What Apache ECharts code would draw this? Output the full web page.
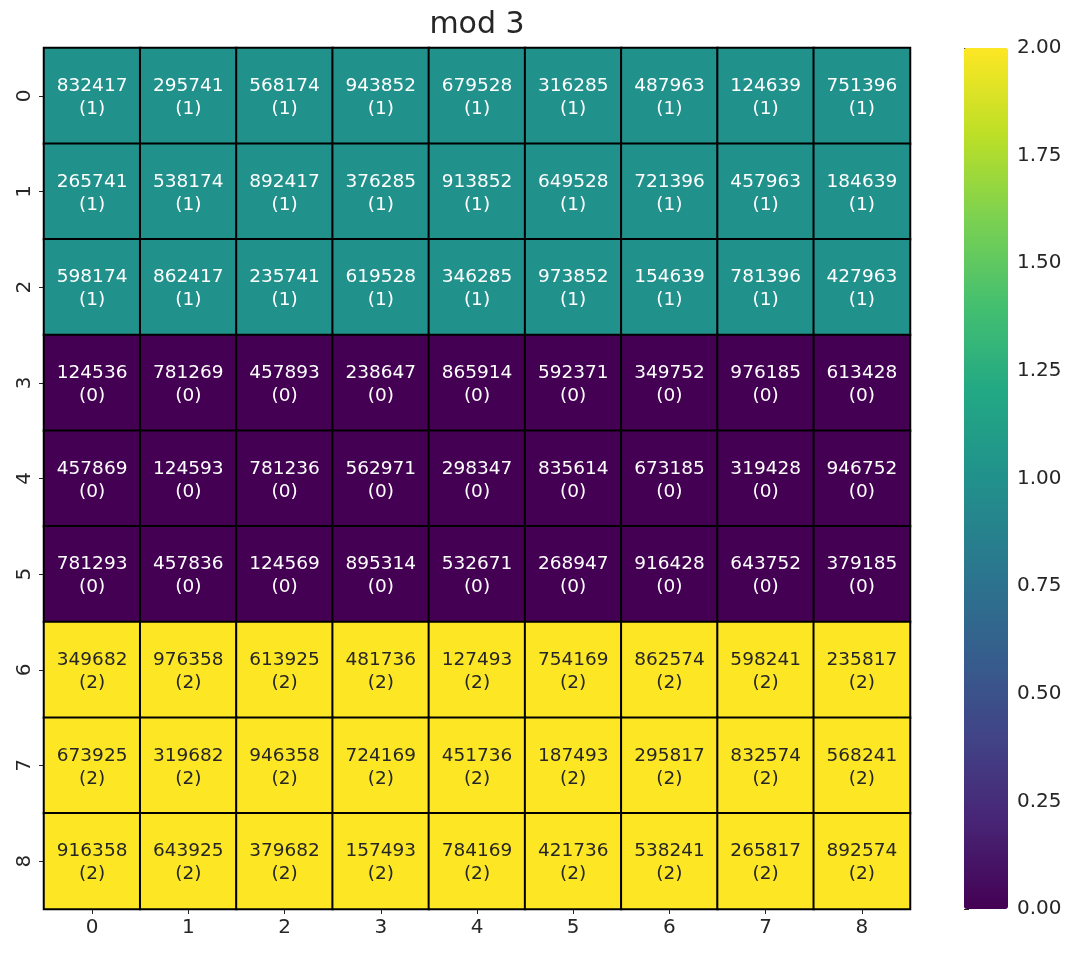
<!DOCTYPE html>
<html>
<head>
<meta charset="utf-8">
<script src="https://cdn.jsdelivr.net/npm/echarts@6/dist/echarts.min.js"></script>
<style>
  html, body { margin: 0; padding: 0; background: #fff; }
  #chart { width: 1080px; height: 953px; }
</style>
</head>
<body>
<div id="chart"></div>
<script>
const xLabels = ['0', '1', '2', '3', '4', '5', '6', '7', '8']
const yLabels = ['0', '1', '2', '3', '4', '5', '6', '7', '8']

const row0 = [832417, 295741, 568174, 943852, 679528, 316285, 487963, 124639, 751396]
const row1 = [265741, 538174, 892417, 376285, 913852, 649528, 721396, 457963, 184639]
const row2 = [598174, 862417, 235741, 619528, 346285, 973852, 154639, 781396, 427963]
const row3 = [124536, 781269, 457893, 238647, 865914, 592371, 349752, 976185, 613428]
const row4 = [457869, 124593, 781236, 562971, 298347, 835614, 673185, 319428, 946752]
const row5 = [781293, 457836, 124569, 895314, 532671, 268947, 916428, 643752, 379185]
const row6 = [349682, 976358, 613925, 481736, 127493, 754169, 862574, 598241, 235817]
const row7 = [673925, 319682, 946358, 724169, 451736, 187493, 295817, 832574, 568241]
const row8 = [916358, 643925, 379682, 157493, 784169, 421736, 538241, 265817, 892574]
const rows = [row0, row1, row2, row3, row4, row5, row6, row7, row8]

const colorTicks = [0, 0.25, 0.5, 0.75, 1, 1.25, 1.5, 1.75, 2]

const viridis = ['#440154', '#482475', '#414487', '#355f8d', '#2a788e', '#21918c',
                 '#22a884', '#44bf70', '#7ad151', '#bddf26', '#fde725']

// heatmap cells: [col, row, value mod 3, raw value]
let cells = []
rows.forEach((row, r) => {
    row.forEach((v, c) => {
        let m = v % 3
        cells.push({
            value: [c, r, m, v],
            label: { color: m === 2 ? '#262626' : '#ffffff' }
        })
    })
})

const font = 'DejaVu Sans'
let chart = echarts.init(document.getElementById('chart'))
chart.setOption({
    backgroundColor: '#ffffff',
    animation: false,
    textStyle: { fontFamily: font },
    title: {
        text: 'mod 3',
        left: 472,
        top: 5,
        textAlign: 'center',
        textStyle: { fontFamily: font, fontSize: 30, fontWeight: 'normal', color: '#262626' }
    },
    grid: [
        { left: 44, top: 48, width: 866, height: 861 },
        { left: 964, top: 48, width: 44, height: 861 }
    ],
    xAxis: [
        {
            type: 'category', gridIndex: 0, data: xLabels, position: 'bottom',
            axisLine: { show: false },
            axisTick: { show: true, alignWithLabel: true, length: 5, lineStyle: { color: '#262626' } },
            axisLabel: { fontFamily: font, fontSize: 20, color: '#262626', margin: 9 },
            splitArea: { show: false }
        },
        { type: 'value', gridIndex: 1, show: false, min: 0, max: 1 }
    ],
    yAxis: [
        {
            type: 'category', gridIndex: 0, data: yLabels, inverse: true,
            axisLine: { show: false },
            axisTick: { show: true, alignWithLabel: true, length: 5, lineStyle: { color: '#262626' } },
            axisLabel: { fontFamily: font, fontSize: 20, color: '#262626', rotate: 90, margin: 9 },
            splitArea: { show: false }
        },
        {
            type: 'value', gridIndex: 1, position: 'right', min: 0, max: 2, interval: 0.25,
            axisLine: { show: false },
            axisTick: { show: true, length: 5, lineStyle: { color: '#262626' } },
            splitLine: { show: false },
            axisLabel: {
                fontFamily: font, fontSize: 20, color: '#262626', margin: 9,
                formatter: v => v.toFixed(2)
            }
        }
    ],
    visualMap: {
        type: 'continuous',
        min: 0,
        max: 2,
        dimension: 2,
        seriesIndex: 0,
        calculable: false,
        hoverLink: false,
        orient: 'vertical',
        left: 964,
        top: 48,
        padding: 0,
        itemWidth: 44,
        itemHeight: 861,
        text: null,
        showLabel: false,
        inRange: { color: viridis }
    },
    series: [
        {
            type: 'heatmap',
            xAxisIndex: 0,
            yAxisIndex: 0,
            data: cells,
            itemStyle: { borderColor: '#000000', borderWidth: 2 },
            label: {
                show: true,
                fontFamily: font,
                fontSize: 18.5,
                lineHeight: 23,
                offset: [0, 2],
                formatter: p => p.value[3] + '\n(' + p.value[2] + ')'
            },
            emphasis: { disabled: true }
        }
    ]
})
</script>
</body>
</html>
